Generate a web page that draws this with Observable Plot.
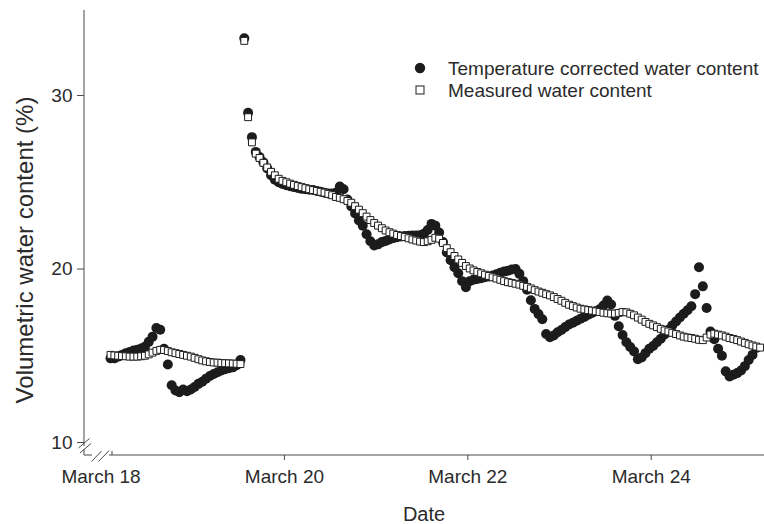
<!DOCTYPE html>
<html><head><meta charset="utf-8">
<script src="https://cdn.jsdelivr.net/npm/d3@7"></script>
<script src="https://cdn.jsdelivr.net/npm/@observablehq/plot@0.6"></script>
<style>
body{margin:0;background:#fff;}
#chart{width:764px;height:524px;}
</style></head><body><div id="chart"></div>
<script>
// Time axis: day of March (fractional); one reading per hour starting March 18 ~02:30
const startDay = 18.104;
const hoursPerStep = 1;

// Temperature corrected water content (%) — filled circles
const corrected = [
  14.85,14.85,14.95,15.05,15.15,15.22,15.3,15.35,15.42,15.52,
  15.8,16.1,16.6,16.5,15.4,14.5,13.3,13.0,12.9,13.05,
  12.95,13.05,13.2,13.38,13.5,13.68,13.83,13.95,14.05,14.15,
  14.22,14.28,14.33,14.45,14.75,
  33.3,29.0,27.6,26.75,26.45,26.15,25.8,25.4,25.15,25.0,
  24.9,24.83,24.77,24.72,24.67,24.62,24.6,24.57,24.55,24.5,
  24.45,24.4,24.35,24.35,24.4,24.75,24.6,24.0,23.6,23.2,
  22.8,22.5,22.0,21.6,21.35,21.42,21.55,21.62,21.7,21.78,
  21.83,21.87,21.9,21.92,21.93,21.93,21.95,22.03,22.25,22.6,
  22.5,22.1,21.55,20.95,20.5,20.1,19.75,19.3,18.95,19.3,
  19.38,19.43,19.47,19.52,19.57,19.63,19.7,19.78,19.85,19.9,
  19.97,20.0,19.72,19.3,18.8,18.2,17.7,17.4,17.1,16.25,
  16.07,16.17,16.35,16.48,16.65,16.8,16.9,17.02,17.13,17.24,
  17.36,17.46,17.57,17.68,17.9,18.18,17.95,17.3,16.7,16.2,
  15.78,15.5,15.25,14.8,14.9,15.15,15.4,15.56,15.78,15.98,
  16.22,16.5,16.75,16.97,17.2,17.42,17.62,17.85,18.55,20.1,
  19.0,17.75,16.4,15.95,15.4,15.0,14.1,13.8,13.9,14.0,
  14.15,14.4,14.75,15.05,15.45
];

// Measured water content (%) — open squares
const measured = [
  15.05,15.02,15.0,14.98,14.97,14.95,14.95,14.95,14.97,15.0,
  15.08,15.18,15.28,15.34,15.33,15.27,15.2,15.15,15.1,15.05,
  15.0,14.95,14.88,14.8,14.73,14.68,14.64,14.61,14.6,14.58,
  14.57,14.56,14.55,14.54,14.52,
  33.15,28.75,27.3,26.65,26.4,26.12,25.85,25.6,25.4,25.2,
  25.08,25.0,24.92,24.85,24.78,24.72,24.66,24.6,24.55,24.5,
  24.45,24.4,24.33,24.25,24.15,24.1,24.02,23.92,23.82,23.62,
  23.42,23.22,23.02,22.82,22.65,22.5,22.35,22.22,22.12,22.04,
  21.96,21.9,21.84,21.77,21.7,21.64,21.58,21.55,21.6,21.68,
  21.8,21.75,21.5,21.2,20.97,20.75,20.55,20.35,20.17,20.03,
  19.92,19.83,19.75,19.67,19.6,19.52,19.45,19.38,19.3,19.24,
  19.2,19.15,19.1,19.03,18.97,18.88,18.78,18.7,18.63,18.55,
  18.48,18.38,18.27,18.17,18.05,17.94,17.86,17.78,17.71,17.67,
  17.63,17.6,17.56,17.52,17.48,17.45,17.43,17.43,17.47,17.52,
  17.5,17.42,17.33,17.2,17.08,16.95,16.84,16.75,16.65,16.55,
  16.46,16.4,16.32,16.25,16.17,16.1,16.05,16.02,15.98,15.92,
  15.9,16.05,16.22,16.27,16.22,16.17,16.1,16.02,15.97,15.9,
  15.82,15.74,15.66,15.59,15.53,15.47
];

const xTicks = [18, 20, 22, 24];
const xTickLabels = ["March 18", "March 20", "March 22", "March 24"];
const yTicks = [10, 20, 30];
const xTitle = "Date";
const yTitle = "Volumetric water content (%)";
const legendLabels = ["Temperature corrected water content", "Measured water content"];

const dayOf = i => startDay + i * hoursPerStep / 24;
const corrData = corrected.map((v, i) => ({day: dayOf(i), value: v}));
const measData = measured.map((v, i) => ({day: dayOf(i), value: v}));

const font = "'Liberation Sans', Arial, Helvetica, sans-serif";
const ink = "#1c1c1c";
const textColor = "#2b2b2b";
const axisColor = "#4a4a4a";

const plot = Plot.plot({
  width: 764, height: 524,
  marginLeft: 84, marginRight: 0, marginTop: 10, marginBottom: 69,
  style: {fontFamily: font, fontSize: "19px", color: textColor, background: "white", overflow: "visible"},
  x: {domain: [17.82, 25.235]},
  y: {domain: [9.25, 34.9]},
  marks: [
    Plot.axisY({ticks: yTicks, tickSize: 7, tickPadding: 5, fontSize: 19, label: null, stroke: axisColor}),
    Plot.axisX({ticks: xTicks, tickSize: 0, tickPadding: 14, fontSize: 19,
      tickFormat: d => xTickLabels[xTicks.indexOf(d)], label: null}),
    Plot.axisX({ticks: xTicks.slice(1), tickSize: 5, tickFormat: () => "", label: null, stroke: axisColor}),
    Plot.dot(corrData, {x: "day", y: "value", r: 5, fill: ink}),
    Plot.dot(measData, {x: "day", y: "value", symbol: "square", r: 3.9, fill: "white", stroke: ink, strokeWidth: 1})
  ]
});

document.getElementById("chart").appendChild(plot);

// Decorations: axis lines with break marks, axis titles, legend
const svg = d3.select(plot);
const xs = plot.scale("x"), ys = plot.scale("y");
const X0 = xs.range[0], X1 = xs.range[1];
const Ytop = ys.range[1], Ybot = ys.range[0];
const y10 = ys.apply(10);
const g = svg.append("g").attr("fill", "none").attr("stroke", axisColor).attr("stroke-width", 1);
g.append("path").attr("d", `M${X0},${Ytop}V${y10 + 4}`);
g.append("path").attr("d", `M${X0 - 5.5},${y10 + 6}L${X0 + 5.5},${y10 - 3.5}`);
g.append("path").attr("d", `M${X0 - 4},${y10 + 11}L${X0 + 7},${y10 + 1.5}`);
g.append("path").attr("d", `M${X0},${y10 + 7}V${Ybot}H${X0 + 8}`);
g.append("path").attr("d", `M${X0 + 7.5},${Ybot + 6.5}L${X0 + 17.5},${Ybot - 4}`);
g.append("path").attr("d", `M${X0 + 14.5},${Ybot + 6.5}L${X0 + 25},${Ybot - 4.3}`);
g.append("path").attr("d", `M${X0 + 25},${Ybot}H${X1}`);
g.append("path").attr("d", `M${X0 + 28},${Ybot}V${Ybot - 4}`);

const tg = svg.append("g").attr("fill", textColor).attr("text-anchor", "middle").style("font-family", font);
tg.append("text").attr("x", (X0 + X1) / 2).attr("y", 521).style("font-size", "20px").text(xTitle);
tg.append("text").attr("transform", `translate(33,250) rotate(-90)`).style("font-size", "24px").text(yTitle);

const lg = svg.append("g");
lg.append("circle").attr("cx", 420).attr("cy", 68).attr("r", 5.2).attr("fill", ink);
lg.append("rect").attr("x", 416).attr("y", 86).attr("width", 8).attr("height", 8).attr("fill", "white").attr("stroke", ink);
lg.selectAll("text.l").data(legendLabels).join("text")
  .attr("x", 448).attr("y", (d, i) => 68 + i * 22).attr("dy", "0.35em")
  .attr("text-anchor", "start")
  .attr("fill", textColor).style("font-family", font).style("font-size", "19px").text(d => d);
</script></body></html>
